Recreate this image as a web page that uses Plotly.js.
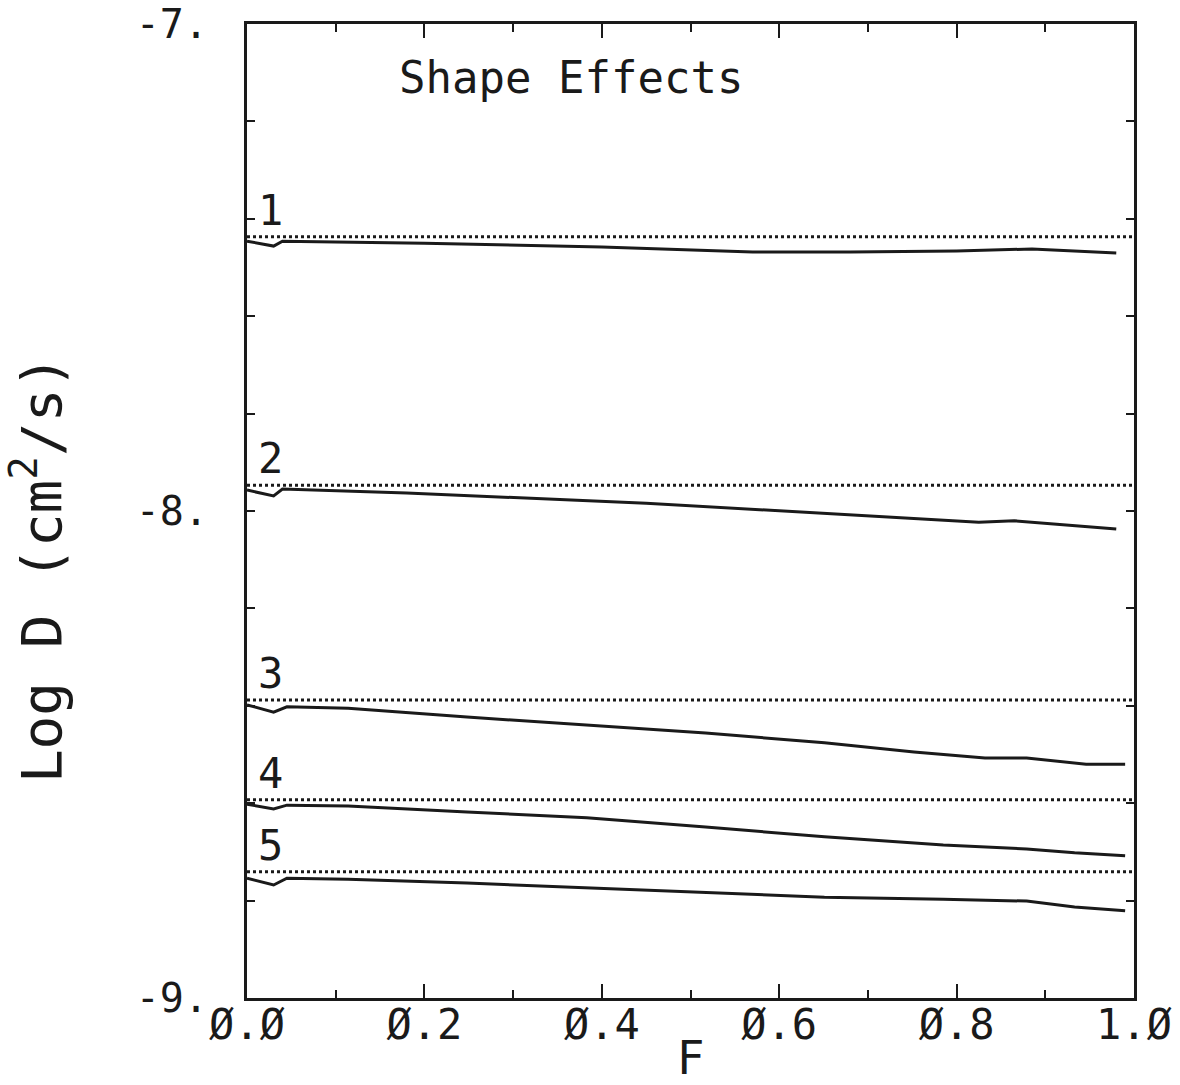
<!DOCTYPE html>
<html>
<head>
<meta charset="utf-8">
<script src="https://cdn.plot.ly/plotly-3.0.1.min.js"></script>
<style>
  html, body { margin: 0; padding: 0; background: #ffffff; }
  #chart { width: 1180px; height: 1085px; }
</style>
</head>
<body>
<div id="chart"></div>
<script>
// ---- data ----
const curveLabels = ["1", "2", "3", "4", "5"];
const sphereRef = [-7.437, -7.947, -8.388, -8.593, -8.741];

const F1 = [0, 0.03, 0.04, 0.2, 0.4, 0.57, 0.68, 0.8, 0.885, 0.98];
const logD1 = [-7.446, -7.456, -7.446, -7.450, -7.458, -7.468, -7.468, -7.466, -7.462, -7.470];

const F2 = [0, 0.03, 0.04, 0.18, 0.45, 0.65, 0.785, 0.825, 0.865, 0.98];
const logD2 = [-7.957, -7.969, -7.955, -7.963, -7.984, -8.004, -8.018, -8.023, -8.020, -8.037];

const F3 = [0, 0.03, 0.045, 0.114, 0.248, 0.383, 0.517, 0.651, 0.752, 0.832, 0.879, 0.946, 0.99];
const logD3 = [-8.398, -8.413, -8.402, -8.405, -8.423, -8.439, -8.456, -8.476, -8.495, -8.507, -8.507, -8.520, -8.520];

const F4 = [0, 0.03, 0.045, 0.114, 0.248, 0.383, 0.517, 0.651, 0.785, 0.879, 0.933, 0.99];
const logD4 = [-8.602, -8.612, -8.604, -8.606, -8.618, -8.630, -8.649, -8.669, -8.686, -8.694, -8.702, -8.708];

const F5 = [0, 0.03, 0.045, 0.114, 0.248, 0.383, 0.517, 0.651, 0.785, 0.879, 0.933, 0.99];
const logD5 = [-8.754, -8.768, -8.754, -8.756, -8.764, -8.774, -8.784, -8.793, -8.797, -8.801, -8.813, -8.821];

const xTickVals = [0, 0.2, 0.4, 0.6, 0.8, 1.0];
const xTickText = ["Ø.Ø", "Ø.2", "Ø.4", "Ø.6", "Ø.8", "1.Ø"];
const yTickVals = [-9, -8, -7];
const yTickText = ["-9.", "-8.", "-7."];
const refSpan = [0, 1];

// ---- build ----
const FONT = "DejaVu Sans Mono, monospace";
const INK = "#1a1a1a";
const curvesF = [F1, F2, F3, F4, F5];
const curvesD = [logD1, logD2, logD3, logD4, logD5];

const traces = [];
sphereRef.forEach((v, i) => {
  traces.push({
    x: refSpan, y: [v, v], mode: "lines", type: "scatter",
    line: { color: INK, width: 3, dash: "dot" },
    hoverinfo: "skip", showlegend: false
  });
});
curvesF.forEach((f, i) => {
  traces.push({
    x: f, y: curvesD[i], mode: "lines", type: "scatter",
    name: "Curve " + curveLabels[i],
    line: { color: INK, width: 3 },
    showlegend: false
  });
});

const annotations = curveLabels.map((lab, i) => ({
  x: 0.01, y: sphereRef[i], xref: "x", yref: "y",
  text: lab, showarrow: false, xanchor: "left", yanchor: "bottom",
  yshift: 0, font: { family: FONT, size: 42, color: INK }
}));
annotations.push({
  xref: "paper", yref: "paper", x: 0.365, y: 0.945,
  xanchor: "center", yanchor: "middle",
  text: "Shape Effects", showarrow: false,
  font: { family: FONT, size: 44, color: INK }
});
annotations.push({
  xref: "paper", yref: "paper", x: -0.236, y: 0.44,
  xanchor: "center", yanchor: "middle", textangle: -90,
  text: "Log D (cm<sup>2</sup>/s)", showarrow: false,
  font: { family: FONT, size: 56, color: INK }
});

const layout = {
  width: 1180, height: 1085,
  margin: { l: 247, r: 46, t: 24, b: 87 },
  paper_bgcolor: "#ffffff", plot_bgcolor: "#ffffff",
  font: { family: FONT, color: INK },
  showlegend: false,
  xaxis: {
    range: [0, 1], showgrid: false, zeroline: false,
    showline: true, linecolor: INK, linewidth: 3, mirror: "ticks",
    ticks: "inside", ticklen: 14, tickwidth: 2, tickcolor: INK,
    tickvals: xTickVals, ticktext: xTickText,
    tickfont: { family: FONT, size: 42, color: INK },
    ticklabelstandoff: -12,
    minor: { dtick: 0.1, ticks: "inside", ticklen: 8, tickwidth: 2, tickcolor: INK, showgrid: false },
    title: { text: "F", standoff: 0, font: { family: FONT, size: 46, color: INK } }
  },
  yaxis: {
    range: [-9, -7], showgrid: false, zeroline: false,
    showline: true, linecolor: INK, linewidth: 3, mirror: "ticks",
    ticks: "inside", ticklen: 8, tickwidth: 2, tickcolor: INK,
    tickvals: yTickVals, ticktext: yTickText,
    tickfont: { family: FONT, size: 40, color: INK },
    ticklabelstandoff: 28,
    minor: { dtick: 0.2, tick0: -9, ticks: "inside", ticklen: 8, tickwidth: 2, tickcolor: INK, showgrid: false }
  },
  annotations: annotations
};

Plotly.newPlot("chart", traces, layout, { staticPlot: true, displayModeBar: false });
</script>
</body>
</html>
